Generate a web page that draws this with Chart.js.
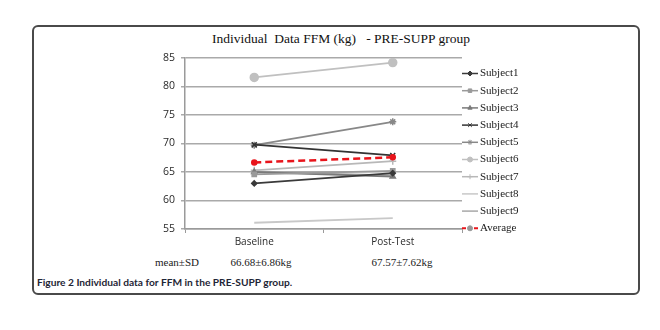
<!DOCTYPE html>
<html>
<head>
<meta charset="utf-8">
<script src="https://cdn.jsdelivr.net/npm/chart.js@4/dist/chart.umd.min.js"></script>
<style>
  html, body { margin: 0; padding: 0; background: #fff; }
  #wrap { position: relative; width: 660px; height: 330px; overflow: hidden; }
  #frame { position: absolute; left: 32px; top: 25px; width: 604px; height: 266px;
    border: 2px solid #4a4a4a; border-radius: 6px; }
  .serif { position: absolute; font-family: 'Liberation Serif', 'DejaVu Serif', serif; color: #1a1a1a; white-space: nowrap; }
  #title { left: 0; width: 682px; top: 31px; text-align: center; font-size: 13.5px; color: #111; }
  .stat { top: 256px; font-size: 11px; transform: translateX(-50%); }
  #caption { position: absolute; left: 37px; top: 276px; font-family: Lato, 'Open Sans', sans-serif;
    font-weight: bold; font-size: 10.2px; color: #1e2535; white-space: nowrap; }
  #c { position: absolute; left: 0; top: 0; }
</style>
</head>
<body>
<div id="wrap">
  <div id="frame"></div>
  <div id="title" class="serif">Individual&nbsp; Data FFM (kg) &nbsp; - PRE-SUPP group</div>
  <div class="serif stat" style="left:177px">mean±SD</div>
  <div class="serif stat" style="left:261px">66.68±6.86kg</div>
  <div class="serif stat" style="left:402px">67.57±7.62kg</div>
  <div id="caption">Figure 2 Individual data for FFM in the PRE-SUPP group.</div>
  <canvas id="c" width="660" height="330"></canvas>
</div>
<script>
(function() {
  var categories = ['Baseline', 'Post-Test'];
  var subjectNames = ['Subject1', 'Subject2', 'Subject3', 'Subject4', 'Subject5', 'Subject6', 'Subject7', 'Subject8', 'Subject9', 'Average'];
  var subject1 = [63.0, 64.8];
  var subject2 = [64.6, 65.2];
  var subject3 = [65.0, 64.2];
  var subject4 = [69.8, 67.9];
  var subject5 = [69.7, 73.8];
  var subject6 = [81.6, 84.2];
  var subject7 = [65.3, 66.9];
  var subject8 = [56.1, 56.9];
  var subject9 = [65.0, 64.4];
  var average = [66.68, 67.57];
  var yTicks = [55, 60, 65, 70, 75, 80, 85];

  var series = [subject1, subject2, subject3, subject4, subject5, subject6, subject7, subject8, subject9, average];
  var colors = ['#3a3a3a', '#9a9a9a', '#7a7a7a', '#333333', '#888888', '#c0c0c0', '#b8b8b8', '#c8c8c8', '#a8a8a8', '#e8141b'];
  var styles = ['rectRot', 'rect', 'triangle', 'crossRot', 'star', 'circle', 'cross', false, false, 'circle'];
  var radii = [2.5, 3, 3, 3.5, 3.5, 4, 3.5, 0, 0, 2.5];

  var datasets = series.map(function(d, i) {
    var isAvg = i === 9;
    return {
      label: subjectNames[i],
      data: d,
      borderColor: colors[i],
      backgroundColor: isAvg ? '#e8141b' : colors[i],
      borderWidth: isAvg ? 2.5 : 1.8,
      borderDash: isAvg ? [7, 4] : [],
      pointStyle: styles[i],
      pointRadius: radii[i],
      pointBorderWidth: 1.5,
      order: isAvg ? 0 : 1
    };
  });

  // legend drawn by hand: short line + marker + serif label
  var sideLegend = {
    id: 'sideLegend',
    afterDraw: function(chart) {
      var ctx = chart.ctx;
      var x0 = 462, x1 = 478, y0 = 73.5, step = 17.2;
      ctx.save();
      chart.data.datasets.forEach(function(ds, i) {
        var y = y0 + i * step;
        ctx.strokeStyle = ds.borderColor;
        ctx.lineWidth = ds.borderWidth > 2 ? 2 : 1.5;
        ctx.setLineDash(ds.borderDash.length ? [4, 2] : []);
        ctx.beginPath(); ctx.moveTo(x0, y); ctx.lineTo(x1, y); ctx.stroke();
        ctx.setLineDash([]);
        if (ds.pointStyle && Chart.helpers && Chart.helpers.drawPoint) {
          ctx.fillStyle = i === 9 ? '#999' : ds.backgroundColor;
          ctx.strokeStyle = i === 9 ? '#999' : ds.borderColor;
          ctx.lineWidth = 1;
          Chart.helpers.drawPoint(ctx, { pointStyle: ds.pointStyle, radius: 2.5, rotation: 0, borderWidth: 1 }, (x0 + x1) / 2, y);
        }
        ctx.fillStyle = '#1a1a1a';
        ctx.font = '11px "Liberation Serif", serif';
        ctx.textBaseline = 'middle';
        ctx.fillText(ds.label, x1 + 2, y);
      });
      ctx.restore();
    }
  };

  new Chart(document.getElementById('c').getContext('2d'), {
    type: 'line',
    data: { labels: categories, datasets: datasets },
    plugins: [sideLegend],
    options: {
      responsive: false,
      animation: false,
      layout: { padding: { left: 150, right: 198, top: 58, bottom: 81 } },
      plugins: { legend: { display: false }, tooltip: { enabled: false } },
      scales: {
        x: {
          offset: true,
          afterFit: function(s) { s.height = 20; },
          border: { color: '#9a9a9a', width: 1.5 },
          grid: { offset: true, drawOnChartArea: false, tickLength: 4, color: '#9a9a9a' },
          ticks: { color: '#2a2a2a', padding: 3, font: { family: "'Open Sans', sans-serif", size: 10 } }
        },
        y: {
          min: 55, max: 85,
          afterFit: function(s) { s.width = 35; },
          afterBuildTicks: function(s) { s.ticks = yTicks.map(function(v) { return { value: v }; }); },
          border: { color: '#9a9a9a', width: 1.5 },
          grid: { color: '#aaaaaa', lineWidth: 1.5, tickLength: 4 },
          ticks: { color: '#2a2a2a', padding: 6, font: { family: "'Open Sans', sans-serif", size: 10.5 } }
        }
      }
    }
  });
})();
</script>
</body>
</html>
